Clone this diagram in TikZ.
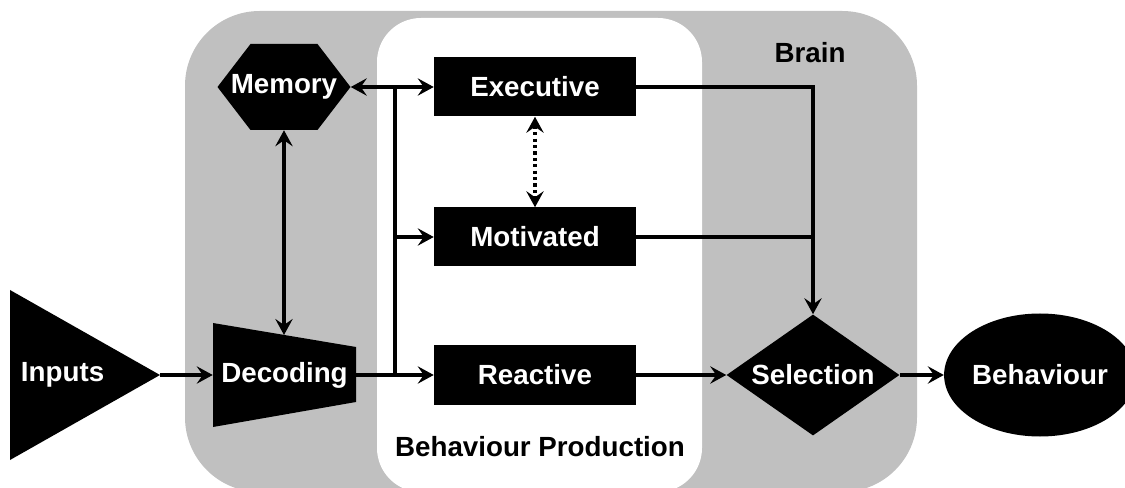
\documentclass[tikz,border=0pt]{standalone}
\usepackage{fontspec}
\setmainfont{Liberation Sans}
\usetikzlibrary{arrows.meta,shapes.geometric}
\definecolor{braingrey}{RGB}{192,192,192}
\begin{document}
\begin{tikzpicture}[x=0.75pt,y=-0.75pt,
		font=\fontsize{20.8}{25}\selectfont\bfseries,
		>={Stealth[length=12pt,width=13pt,inset=4.5pt]},
		blk/.style={fill=black,text=white,inner sep=0pt},
		stage/.style={blk,rectangle,minimum width=151.5pt,minimum height=44.25pt},
		ghost/.style={text=white,inner sep=0pt,rectangle},
		link/.style={line width=2.6pt}]
	\useasboundingbox (0,0) rectangle (1125,488);
	\fill[braingrey,rounded corners=56pt] (185,11) rectangle (917,492);
	\fill[white,rounded corners=33pt] (377,18) rectangle (702,492);
	\node (brain) at (810,53) {Brain};
	\node (production) at (540,447) {Behaviour Production};
	\fill (10,290) -- (160,375) -- (10,460) -- cycle;
	\node[ghost,minimum width=112.5pt,minimum height=127.5pt,text width=96pt,inner xsep=8pt,align=left] (inputs) at (85,375) {Inputs};
	\fill (213,323) -- (356,347) -- (356,402) -- (213,427) -- cycle;
	\node[ghost,minimum width=107.25pt,minimum height=78pt] (decoding) at (284.5,375) {Decoding};
	\fill (217.5,87) -- (250.5,44) -- (317.5,44) -- (350.5,87) -- (317.5,130) -- (250.5,130) -- cycle;
	\node[ghost,minimum width=99.75pt,minimum height=64.5pt] (memory) at (284,87) {Memory};
	\node[stage] (executive) at (535,87) {Executive};
	\node[stage] (motivated) at (535,237) {Motivated};
	\node[stage] (reactive) at (535,375) {Reactive};
	\node[blk,diamond,aspect=1.43,minimum width=129.75pt,minimum height=90.75pt] (selection) at (813,375) {Selection};
	\node[blk,ellipse,minimum width=126.75pt,minimum height=92.25pt] (behaviour) at (1040,375) {Behaviour};
	\coordinate (dectop) at (284,335);
	\coordinate (split) at (395,375);
	\draw[link,->] (inputs.east) -- (decoding.west);
	\draw[link,->] (decoding.east) -- (reactive.west);
	\draw[link] (split) -- (split |- executive.west);
	\draw[link,->] (split |- motivated.west) -- (motivated.west);
	\draw[link,<->] (memory.east) -- (executive.west);
	\draw[link,<->] (memory.south) -- (dectop);
	\draw[link,<->,dash pattern=on 2.4pt off 2.4pt] (executive.south) -- (motivated.north);
	\draw[link,->] (executive.east) -- (executive.east -| selection.north) -- (selection.north);
	\draw[link] (motivated.east) -- (motivated.east -| selection.north);
	\draw[link,->] (reactive.east) -- (selection.west);
	\draw[link,->] (selection.east) -- (behaviour.west);
\end{tikzpicture}
\end{document}
